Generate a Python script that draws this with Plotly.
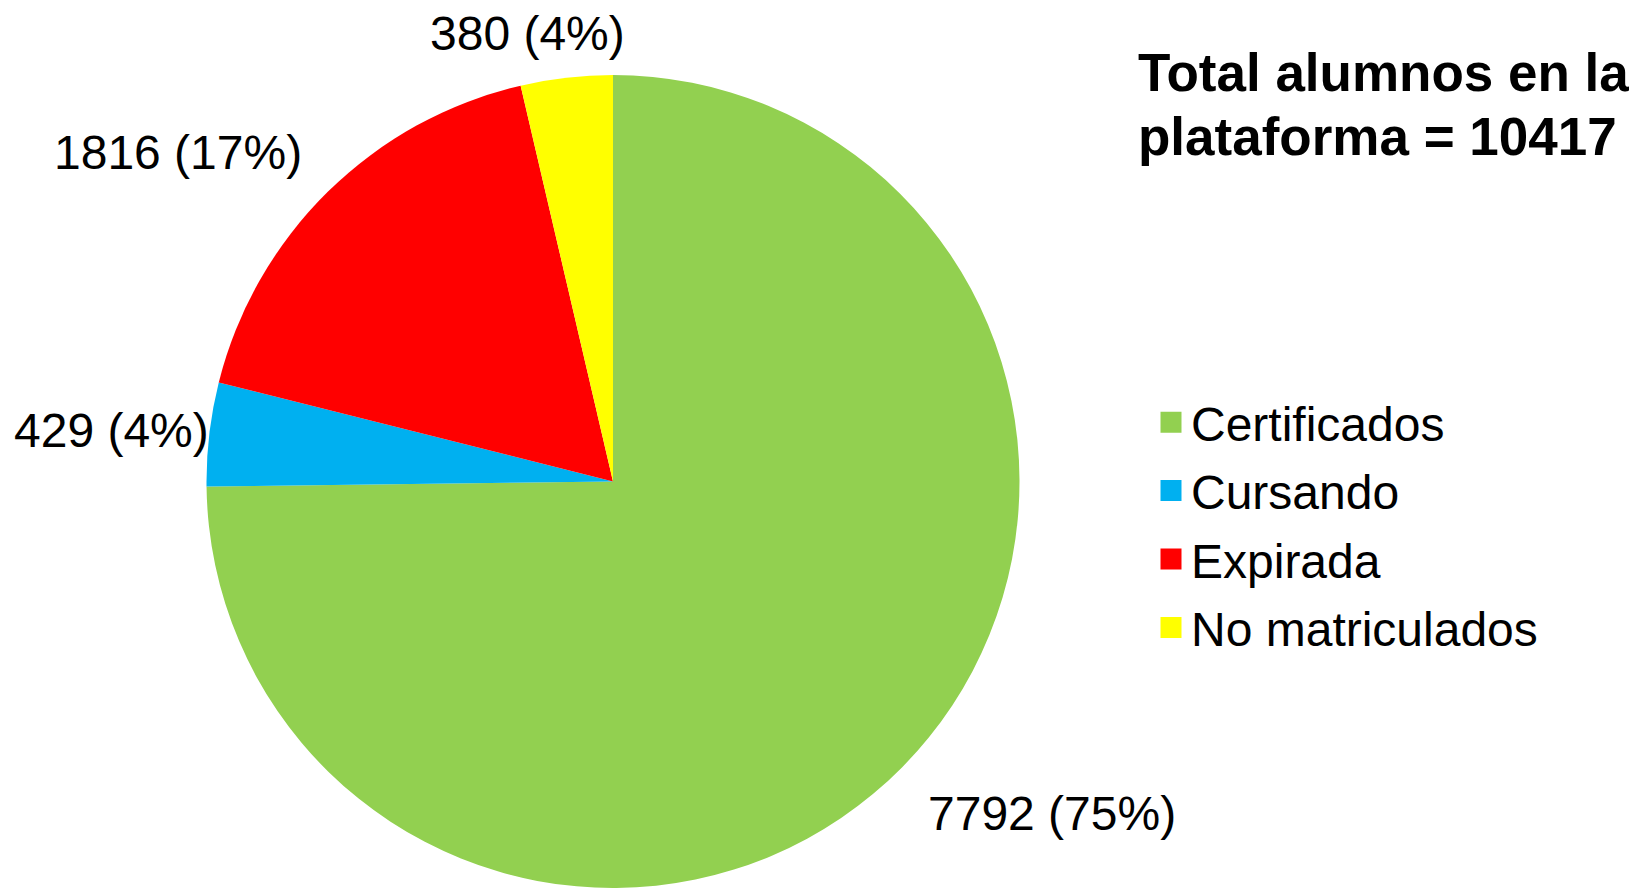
import plotly.graph_objects as go

categories = ["Certificados", "Cursando", "Expirada", "No matriculados"]
values = [7792, 429, 1816, 380]
colors = ["#92D050", "#00B0F0", "#FF0000", "#FFFF00"]

# label anchor positions (figure pixels) for each slice label
label_px = [1044, 103, 169.5, 519]
label_py = [805, 422, 144, 25]

W, H = 1629, 880          # page body has an 8px margin
T, B = 67, 0
PH = H - T - B
total = sum(values)
FONT = "Liberation Sans, Arial, sans-serif"

def px(x):
    return x / W

def py(y):
    return (H - B - y) / PH

CX, R = 605, PH / 2

fig = go.Figure()
fig.add_trace(go.Pie(
    labels=categories,
    values=values,
    marker=dict(colors=colors, line=dict(width=0)),
    sort=False,
    direction="clockwise",
    rotation=0,
    textinfo="none",
    hoverinfo="label+value+percent",
    showlegend=False,
    domain=dict(x=[(CX - R) / W, (CX + R) / W], y=[0, 1]),
))

# legend entries (same categories / colours as the pie)
for name, col in zip(categories, colors):
    fig.add_trace(go.Scatter(
        x=[None], y=[None], mode="markers", name=name, legendgroup=name,
        marker=dict(symbol="square", size=16, color=col,
                    line=dict(width=5, color=col)),
        showlegend=True, hoverinfo="skip",
    ))

annotations = []
for v, x, y in zip(values, label_px, label_py):
    pct = round(v / total * 100)
    annotations.append(dict(
        text=f"{v} ({pct}%)", x=px(x), y=py(y), xref="paper", yref="paper",
        xanchor="center", yanchor="middle", showarrow=False,
        font=dict(family=FONT, size=48, color="black"),
    ))

annotations.append(dict(
    text="<b>Total alumnos en la</b>", x=px(1128), y=py(64),
    xref="paper", yref="paper", xanchor="left", yanchor="middle",
    showarrow=False, font=dict(family=FONT, size=53, color="black"),
))
annotations.append(dict(
    text=f"<b>plataforma = {total}</b>", x=px(1128), y=py(129),
    xref="paper", yref="paper", xanchor="left", yanchor="middle",
    showarrow=False, font=dict(family=FONT, size=53, color="black"),
))

fig.update_layout(
    width=W, height=H,
    margin=dict(l=0, r=0, t=T, b=B),
    paper_bgcolor="white", plot_bgcolor="white",
    xaxis=dict(visible=False), yaxis=dict(visible=False),
    showlegend=True,
    legend=dict(
        x=px(1143), y=py(517), xanchor="left", yanchor="middle",
        font=dict(family=FONT, size=48, color="black"),
        bgcolor="rgba(0,0,0,0)", borderwidth=0,
        traceorder="grouped", tracegroupgap=3,
    ),
    annotations=annotations,
)

fig.write_html("out.html")
